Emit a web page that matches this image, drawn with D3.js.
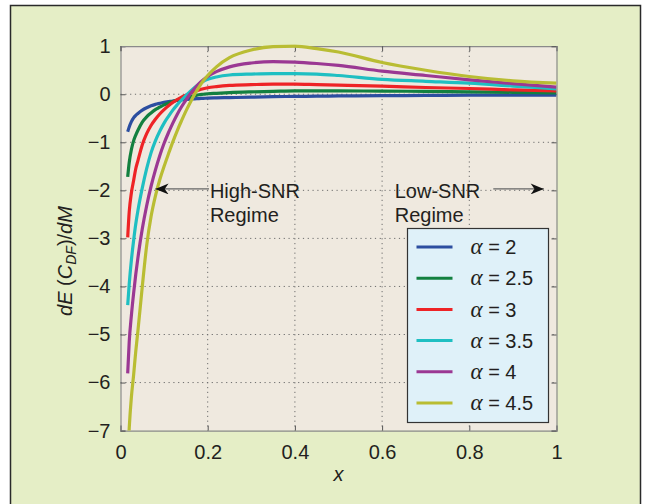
<!DOCTYPE html>
<html>
<head>
<meta charset="utf-8">
<script src="https://cdn.jsdelivr.net/npm/d3@7/dist/d3.min.js"></script>
<style>
  html, body { margin: 0; padding: 0; background: #ffffff; }
  svg { display: block; }
  text { font-family: "Liberation Sans", Arial, Helvetica, sans-serif; fill: #231f20; }
</style>
</head>
<body>
<svg id="chart" width="646" height="504"></svg>
<script>
// ---------------- data ----------------
const xValues = [0.0165, 0.02, 0.025, 0.03, 0.035, 0.04, 0.05, 0.06, 0.07, 0.08, 0.09, 0.1, 0.11, 0.12, 0.13, 0.14, 0.15, 0.16, 0.17, 0.18, 0.19, 0.2, 0.22, 0.25, 0.3, 0.35, 0.4, 0.45, 0.5, 0.6, 0.7, 0.8, 0.9, 1.0];
const seriesNames = ["2", "2.5", "3", "3.5", "4", "4.5"];
const seriesColors = ["#2c4ea0", "#138040", "#ee2326", "#1fbfc2", "#9b3893", "#b9bd33"];
const alpha2   = [-0.78,-0.68,-0.57,-0.49,-0.44,-0.40, -0.33,-0.28,-0.24,-0.21,-0.19,-0.17, -0.155,-0.14,-0.13,-0.12,-0.11,-0.10, -0.095,-0.09,-0.085,-0.08, -0.075,-0.07,-0.06,-0.05,-0.045,-0.04,-0.035, -0.03,-0.025,-0.02,-0.02,-0.02];
const alpha2_5 = [-1.72,-1.42,-1.15,-0.97,-0.85,-0.75, -0.58,-0.47,-0.39,-0.32,-0.27,-0.22, -0.18,-0.15,-0.12,-0.09,-0.07,-0.05, -0.03,-0.01,0.0,0.01, 0.02,0.035,0.05,0.06,0.07,0.07,0.07, 0.065,0.06,0.05,0.04,0.03];
const alpha3   = [-2.98,-2.45,-2.05,-1.80,-1.55,-1.38, -1.05,-0.82,-0.65,-0.52,-0.41,-0.32, -0.24,-0.17,-0.11,-0.06,-0.02,0.02, 0.06,0.09,0.115,0.135, 0.16,0.185,0.20,0.21,0.21,0.20,0.19, 0.17,0.14,0.12,0.09,0.07];
const alpha3_5 = [-4.39,-3.95,-3.45,-3.05,-2.70,-2.42, -1.95,-1.55,-1.22,-0.97,-0.77,-0.60, -0.46,-0.33,-0.22,-0.12,-0.03,0.06, 0.14,0.21,0.27,0.31, 0.36,0.40,0.42,0.43,0.43,0.42,0.39, 0.31,0.27,0.23,0.17,0.11];
const alpha4   = [-5.81,-5.15,-4.60,-4.15,-3.75,-3.40, -2.80,-2.32,-1.92,-1.58,-1.28,-1.02, -0.80,-0.60,-0.42,-0.26,-0.12,0.01, 0.12,0.22,0.30,0.37, 0.47,0.57,0.65,0.68,0.67,0.64,0.60, 0.48,0.39,0.30,0.22,0.15];
const alpha4_5 = [-7.60,-6.95,-6.30,-5.85,-5.35,-4.92, -4.00,-3.15,-2.55,-2.12,-1.78,-1.50, -1.24,-0.99,-0.76,-0.55,-0.35,-0.17, 0.0,0.15,0.28,0.39, 0.57,0.76,0.92,0.99,1.00,0.95,0.88, 0.66,0.50,0.37,0.28,0.23];
const seriesValues = [alpha2, alpha2_5, alpha3, alpha3_5, alpha4, alpha4_5];
const xTicks = [0, 0.2, 0.4, 0.6, 0.8, 1];
const xTickLabels = ["0", "0.2", "0.4", "0.6", "0.8", "1"];
const yTicks = [1, 0, -1, -2, -3, -4, -5, -6, -7];
const yTickLabels = ["1", "0", "\u22121", "\u22122", "\u22123", "\u22124", "\u22125", "\u22126", "\u22127"];

// ---------------- layout ----------------
const svg = d3.select("#chart");
const pLeft = 120.5, pRight = 556.5, pTop = 46.2, pBottom = 430.6;
const x = d3.scaleLinear().domain([0, 1]).range([pLeft, pRight]);
const y = d3.scaleLinear().domain([-7, 1]).range([pBottom, pTop]);

// outer frame
svg.append("rect").attr("x", 10.5).attr("y", 5.5).attr("width", 630).attr("height", 520)
  .attr("fill", "#e5eec6").attr("stroke", "#2a2a2a").attr("stroke-width", 1.5);

// plot background
svg.append("rect").attr("x", pLeft).attr("y", pTop).attr("width", pRight - pLeft).attr("height", pBottom - pTop)
  .attr("fill", "#efe9df");

// grid
const grid = svg.append("g").attr("stroke", "#6d6d6d").attr("stroke-width", 1).attr("stroke-dasharray", "1.2,3.6");
grid.selectAll(".gx").data(xTicks.filter(d => d > 0 && d < 1)).join("line")
  .attr("x1", d => x(d)).attr("x2", d => x(d)).attr("y1", pTop).attr("y2", pBottom);
grid.selectAll(".gy").data(yTicks.filter(d => d > -7 && d < 1)).join("line")
  .attr("y1", d => y(d)).attr("y2", d => y(d)).attr("x1", pLeft).attr("x2", pRight);

// axes (MATLAB box style, inward ticks)
const tickLen = 5;
const axB = svg.append("g").attr("transform", `translate(0,${pBottom})`)
  .call(d3.axisBottom(x).tickValues(xTicks).tickSize(-tickLen).tickPadding(10).tickFormat((d, i) => xTickLabels[i]));
const axL = svg.append("g").attr("transform", `translate(${pLeft},0)`)
  .call(d3.axisLeft(y).tickValues(yTicks).tickSize(-tickLen).tickPadding(10).tickFormat((d, i) => yTickLabels[i]));
const axT = svg.append("g").attr("transform", `translate(0,${pTop})`)
  .call(d3.axisTop(x).tickValues(xTicks).tickSize(-tickLen).tickFormat(""));
const axR = svg.append("g").attr("transform", `translate(${pRight},0)`)
  .call(d3.axisRight(y).tickValues(yTicks).tickSize(-tickLen).tickFormat(""));
[axB, axL, axT, axR].forEach(a => {
  a.select(".domain").attr("stroke", "#8a8a8a").attr("stroke-width", 1.2);
  a.selectAll(".tick line").attr("stroke", "#555").attr("stroke-width", 1);
  a.selectAll(".tick text").attr("font-size", 20).attr("fill", "#231f20")
    .attr("font-family", "'Liberation Sans', Arial, sans-serif");
});
axB.selectAll(".tick text").attr("dy", "0.9em");

// clip
svg.append("clipPath").attr("id", "plotclip").append("rect")
  .attr("x", pLeft).attr("y", pTop - 2).attr("width", pRight - pLeft).attr("height", pBottom - pTop + 2);

const line = d3.line().x(d => x(d[0])).y(d => y(d[1])).curve(d3.curveMonotoneX);
const curves = svg.append("g").attr("clip-path", "url(#plotclip)");
seriesValues.forEach((vals, i) => {
  curves.append("path")
    .datum(xValues.map((xv, j) => [xv, vals[j]]))
    .attr("fill", "none").attr("stroke", seriesColors[i]).attr("stroke-width", 3.2)
    .attr("stroke-linejoin", "round").attr("stroke-linecap", "butt")
    .attr("d", line);
});

// annotations
const defs = svg.append("defs");
defs.append("marker").attr("id", "ah").attr("viewBox", "0 0 12 10").attr("refX", 12).attr("refY", 5)
  .attr("markerWidth", 14).attr("markerHeight", 11).attr("markerUnits", "userSpaceOnUse").attr("orient", "auto")
  .append("path").attr("d", "M0,0 L12,5 L0,10 L3.5,5 Z").attr("fill", "#111");

svg.append("line").attr("x1", x(0.203)).attr("x2", x(0.08)).attr("y1", y(-1.97)).attr("y2", y(-1.97))
  .attr("stroke", "#666").attr("stroke-width", 1.3).attr("marker-end", "url(#ah)");
svg.append("line").attr("x1", x(0.855)).attr("x2", x(0.971)).attr("y1", y(-1.97)).attr("y2", y(-1.97))
  .attr("stroke", "#666").attr("stroke-width", 1.3).attr("marker-end", "url(#ah)");

const ann = [
  { t: "High-SNR", xv: 0.205, yv: -2 },
  { t: "Regime",   xv: 0.205, yv: -2.5 },
  { t: "Low-SNR",  xv: 0.629, yv: -2 },
  { t: "Regime",   xv: 0.629, yv: -2.5 }
];
svg.selectAll(".ann").data(ann).join("text")
  .attr("x", d => x(d.xv)).attr("y", d => y(d.yv)).attr("dy", "0.36em")
  .attr("font-size", 20).text(d => d.t);

// legend
const lg = svg.append("g");
const lgX = 407.5, lgY = 228.5, lgW = 141, lgH = 194, rowH = 31.2;
lg.append("rect").attr("x", lgX).attr("y", lgY).attr("width", lgW).attr("height", lgH)
  .attr("fill", "#dff1f9").attr("stroke", "#333").attr("stroke-width", 1.2);
const rows = lg.selectAll(".row").data(seriesNames).join("g")
  .attr("transform", (d, i) => `translate(${lgX},${lgY + 18.5 + i * rowH})`);
rows.append("line").attr("x1", 9).attr("x2", 45).attr("y1", 0).attr("y2", 0)
  .attr("stroke", (d, i) => seriesColors[i]).attr("stroke-width", 3);
const lt = rows.append("text").attr("x", 63).attr("y", 0).attr("dy", "0.36em").attr("font-size", 20);
lt.append("tspan").attr("font-family", "'Liberation Serif', 'Times New Roman', serif").attr("font-style", "italic")
  .attr("font-size", 23).text("\u03b1");
lt.append("tspan").text(d => " = " + d);

// axis titles
svg.append("text").attr("x", x(0.5)).attr("y", 481).attr("text-anchor", "middle")
  .attr("font-size", 20).attr("font-style", "italic").text("x");

const yl = svg.append("text").attr("transform", "translate(72,261) rotate(-90)")
  .attr("text-anchor", "middle").attr("font-size", 20);
yl.append("tspan").attr("font-style", "italic").text("dE");
yl.append("tspan").text(" (");
yl.append("tspan").attr("font-style", "italic").text("C");
yl.append("tspan").attr("font-style", "italic").attr("font-size", 14).attr("dy", 4).text("DF");
yl.append("tspan").attr("dy", -4).text(")/");
yl.append("tspan").attr("font-style", "italic").text("dM");
</script>
</body>
</html>
